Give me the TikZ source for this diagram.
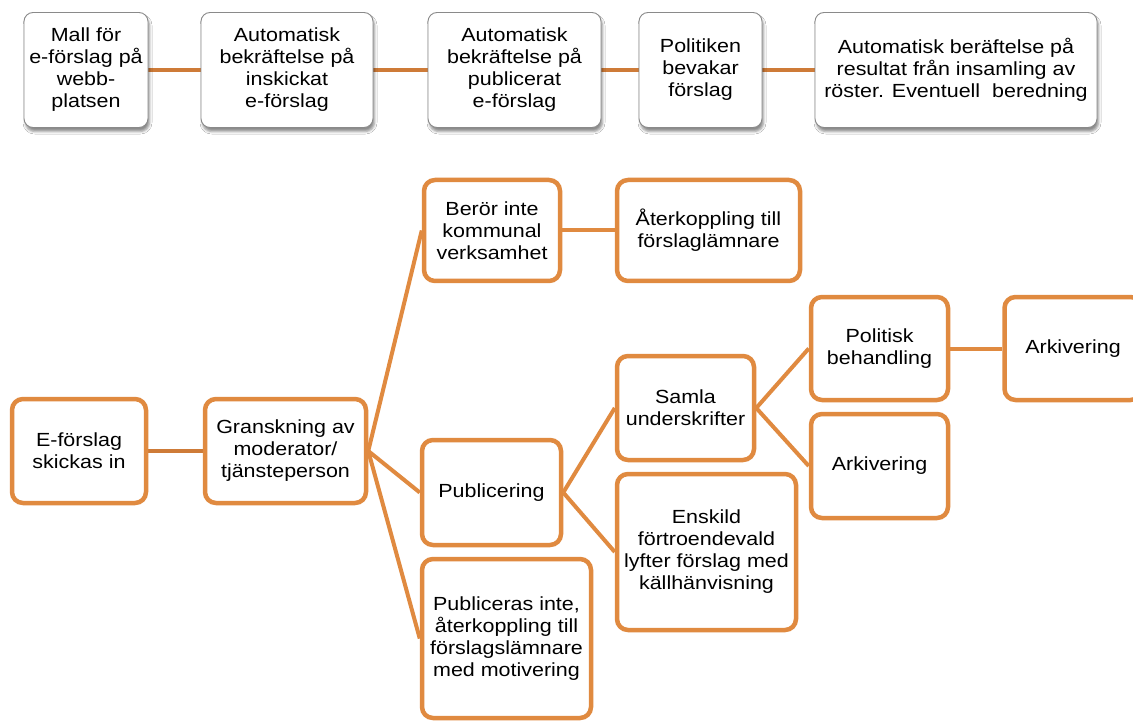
\documentclass[tikz,border=0pt]{standalone}
\usepackage{fontspec}
\setmainfont[FakeStretch=1.13]{Liberation Sans}
\usetikzlibrary{shadows.blur,backgrounds}

\definecolor{boxorange}{HTML}{E08A40}
\definecolor{linkorange}{HTML}{E08A40}
\definecolor{darklink}{HTML}{CE7B38}
\definecolor{topgray}{HTML}{8A8A8A}

\tikzset{
  every node/.style={font=\fontsize{19}{22}\selectfont, align=center, inner sep=0pt},
  topbox/.style={draw=topgray, line width=0.9pt, rounded corners=9pt, fill=white,
    blur shadow={shadow xshift=1.5pt, shadow yshift=-4pt, shadow blur radius=2.5pt, shadow opacity=45},
    minimum height=115pt},
  obox/.style={draw=boxorange, line width=4.5pt, rounded corners=11pt, fill=white},
  link/.style={draw=linkorange, line width=4pt},
  toplink/.style={draw=darklink, line width=4pt},
}

\begin{document}
\begin{tikzpicture}[x=1pt,y=-1pt]
\useasboundingbox (0,0) rectangle (1133,722);
\clip (0,0) rectangle (1133,722);

% process chain of automatic steps
\node[topbox, minimum width=124pt] (t1) at (86,70) {Mall för\\e-förslag på\\webb-\\platsen};
\node[topbox, minimum width=172pt] (t2) at (287,70) {Automatisk\\bekräftelse på\\inskickat\\e-förslag};
\node[topbox, minimum width=173pt] (t3) at (514.5,70) {Automatisk\\bekräftelse på\\publicerat\\e-förslag};
\node[topbox, minimum width=123pt] (t4) at (700.5,70) {Politiken\\bevakar\\förslag};
\node[topbox, minimum width=282pt] (t5) at (956,70) {Automatisk beräftelse på\\resultat från insamling av\\röster. Eventuell~ beredning};

% handling tree
\node[obox, minimum width=134pt, minimum height=104pt] (e1) at (79,451) {E-förslag\\skickas in};
\node[obox, minimum width=161pt, minimum height=104pt] (g) at (285.5,451) {Granskning av\\moderator/\\tjänsteperson};
\node[obox, minimum width=136pt, minimum height=101pt] (b) at (492,230.5) {Berör inte\\kommunal\\verksamhet};
\node[obox, minimum width=183pt, minimum height=101pt] (a) at (708.5,230.5) {Återkoppling till\\förslaglämnare};
\node[obox, minimum width=139pt, minimum height=105pt] (p) at (491.5,492.5) {Publicering};
\node[obox, minimum width=169pt, minimum height=159pt] (pi) at (506.5,638.5) {Publiceras inte,\\återkoppling till\\förslagslämnare\\med motivering};
\node[obox, minimum width=137pt, minimum height=104pt] (s) at (685.5,408) {Samla\\underskrifter};
\node[obox, minimum width=179pt, minimum height=156pt] (en) at (706.5,552) {Enskild\\förtroendevald\\lyfter förslag med\\källhänvisning};
\node[obox, minimum width=137pt, minimum height=103pt] (pb) at (879.5,348.5) {Politisk\\behandling};
\node[obox, minimum width=137pt, minimum height=104pt] (ar1) at (879.5,466) {Arkivering};
\node[obox, minimum width=137pt, minimum height=103pt] (ar2) at (1073,348.5) {Arkivering};

\begin{scope}[on background layer]
  \fill[white] (0,0) rectangle (1133,722);
  \draw[toplink] (t1.east) -- (t2.west);
  \draw[toplink] (t2.east) -- (t3.west);
  \draw[toplink] (t3.east) -- (t4.west);
  \draw[toplink] (t4.east) -- (t5.west);

  \draw[toplink] (e1.east) -- (g.west);
  \draw[link] (g.east) -- (b.west);
  \draw[link] (g.east) -- (p.west);
  \draw[link] (g.east) -- (pi.west);
  \draw[link] (b.east) -- (a.west);
  \draw[link] (p.east) -- (s.west);
  \draw[link] (p.east) -- (en.west);
  \draw[link] (s.east) -- (pb.west);
  \draw[link] (s.east) -- (ar1.west);
  \draw[link] (pb.east) -- (ar2.west);
\end{scope}
\end{tikzpicture}
\end{document}
